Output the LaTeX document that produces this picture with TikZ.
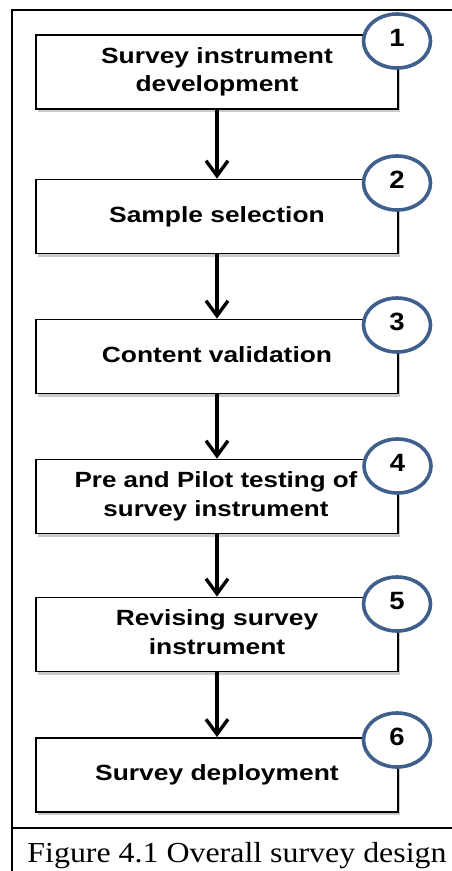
\documentclass[tikz,border=0pt]{standalone}
\usepackage{fontspec}
\newfontfamily\arialfont{Liberation Sans}
\newfontfamily\timesfont{Liberation Serif}
\usetikzlibrary{arrows.meta,shadows,shapes.geometric}
\definecolor{circblue}{HTML}{3F5F8C}
\newcommand{\widetext}[2][1.2]{\scalebox{#1}[1]{\begin{tabular}{@{}c@{}}#2\end{tabular}}}
\tikzset{
  stepbox/.style={draw=black, line width=1.8pt, fill=white, minimum width=362pt, minimum height=74pt,
    align=center, font=\arialfont\bfseries\fontsize{22}{28.5}\selectfont, inner sep=0pt,
    drop shadow={shadow xshift=2pt, shadow yshift=-3pt, fill=black!35, opacity=0.6}},
  numcirc/.style={draw=circblue, line width=3.6pt, fill=white, ellipse, minimum width=67pt, minimum height=54pt,
    inner sep=0pt, font=\arialfont\bfseries\fontsize{25}{28}\selectfont},
  flow/.style={line width=3.6pt, -{Straight Barb[length=15pt,width=22pt,line width=3.4pt]}},
  frame/.style={line width=2.6pt}
}
\begin{document}
\begin{tikzpicture}[x=1pt,y=-1pt]
\useasboundingbox (0,0) rectangle (452,871);
\draw[frame] (12,871) -- (12,10) -- (452,10);
\draw[frame] (12,828) -- (452,828);
\node[stepbox] (b1) at (217,72) {\widetext{Survey instrument\\development}};
\node[stepbox] (b2) at (217,216.5) {\widetext{Sample selection}};
\node[stepbox] (b3) at (217,356.5) {\widetext{Content validation}};
\node[stepbox] (b4) at (217,496.5) {\hspace*{-2pt}\widetext[1.18]{Pre and Pilot testing of\\survey instrument}};
\node[stepbox] (b5) at (217,634.5) {\widetext{Revising survey\\instrument}};
\node[stepbox] (b6) at (217,775) {\widetext{Survey deployment}};
\node[numcirc] (c1) at (397,41) {\widetext[1.1]{1}};
\node[numcirc] (c2) at (397,183) {\widetext[1.1]{2}};
\node[numcirc] (c3) at (397,325) {\widetext[1.1]{3}};
\node[numcirc] (c4) at (397.5,466) {\widetext[1.1]{4}};
\node[numcirc] (c5) at (397,604) {\widetext[1.1]{5}};
\node[numcirc] (c6) at (397,740) {\widetext[1.1]{6}};
\draw[flow] (b1.south) -- (b2.north);
\draw[flow] (b2.south) -- (b3.north);
\draw[flow] (b3.south) -- (b4.north);
\draw[flow] (b4.south) -- (b5.north);
\draw[flow] (b5.south) -- (b6.north);
\node[font=\timesfont\fontsize{29}{32}\selectfont, anchor=base, inner sep=0pt] (cap) at (237,862) {\scalebox{1.1}[1]{Figure 4.1 Overall survey design}};
\end{tikzpicture}
\end{document}
